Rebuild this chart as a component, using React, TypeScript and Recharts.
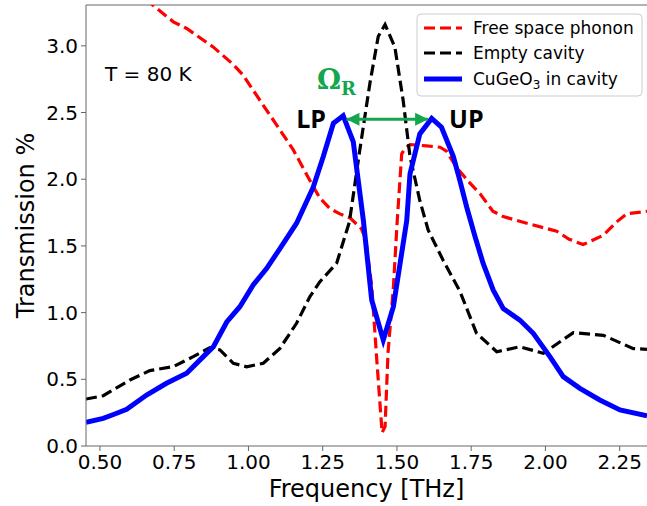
import React from 'react';
import { LineChart, Line, XAxis, YAxis, ReferenceLine } from 'recharts';

// frequency [THz] / transmission [%]
const FREE_X = [0.453, 0.55, 0.62, 0.67, 0.747, 0.792, 0.882, 0.949, 0.982, 1.039, 1.106, 1.151, 1.207, 1.24, 1.274, 1.308, 1.342, 1.38, 1.395, 1.415, 1.432, 1.45, 1.46, 1.47, 1.488, 1.501, 1.516, 1.527, 1.544, 1.6, 1.645, 1.667, 1.7, 1.746, 1.78, 1.823, 1.858, 1.937, 2.038, 2.08, 2.127, 2.195, 2.24, 2.273, 2.342];
const FREE_Y = [3.75, 3.58, 3.42, 3.32, 3.18, 3.13, 2.99, 2.86, 2.78, 2.59, 2.37, 2.22, 1.99, 1.86, 1.78, 1.74, 1.71, 1.63, 1.55, 1.2, 0.65, 0.1, 0.145, 0.7, 1.19, 1.69, 2.19, 2.23, 2.26, 2.25, 2.24, 2.21, 2.09, 1.97, 1.89, 1.76, 1.72, 1.67, 1.61, 1.55, 1.51, 1.58, 1.68, 1.74, 1.76];

const EMPTY_X = [0.453, 0.511, 0.601, 0.668, 0.747, 0.814, 0.87, 0.904, 0.949, 0.994, 1.05, 1.106, 1.162, 1.207, 1.24, 1.297, 1.34, 1.375, 1.409, 1.437, 1.46, 1.493, 1.521, 1.544, 1.577, 1.605, 1.656, 1.712, 1.768, 1.836, 1.914, 1.993, 2.094, 2.195, 2.296, 2.342];
const EMPTY_Y = [0.352, 0.377, 0.495, 0.565, 0.595, 0.67, 0.737, 0.72, 0.62, 0.594, 0.62, 0.732, 0.92, 1.12, 1.23, 1.37, 1.68, 2.22, 2.72, 3.07, 3.16, 2.99, 2.59, 2.17, 1.84, 1.62, 1.39, 1.16, 0.845, 0.707, 0.744, 0.695, 0.85, 0.83, 0.73, 0.725];

const CAVITY_X = [0.453, 0.511, 0.55, 0.59, 0.657, 0.724, 0.792, 0.848, 0.882, 0.927, 0.971, 1.016, 1.061, 1.106, 1.162, 1.218, 1.252, 1.286, 1.319, 1.353, 1.387, 1.415, 1.454, 1.488, 1.533, 1.544, 1.577, 1.617, 1.65, 1.69, 1.712, 1.735, 1.763, 1.79, 1.824, 1.858, 1.914, 1.959, 2.015, 2.06, 2.116, 2.183, 2.251, 2.342];
const CAVITY_Y = [0.178, 0.207, 0.24, 0.275, 0.382, 0.47, 0.545, 0.67, 0.744, 0.93, 1.044, 1.207, 1.33, 1.48, 1.67, 1.94, 2.17, 2.42, 2.476, 2.28, 1.69, 1.094, 0.795, 1.044, 1.69, 2.04, 2.34, 2.456, 2.39, 2.17, 1.99, 1.79, 1.57, 1.37, 1.17, 1.03, 0.944, 0.845, 0.67, 0.52, 0.432, 0.345, 0.27, 0.227];

// Rabi splitting arrow between the LP and UP peaks
const RABI_X = [1.33, 1.605];
const RABI_Y = [2.45, 2.45];

const X_TICKS = [0.5, 0.75, 1.0, 1.25, 1.5, 1.75, 2.0, 2.25];
const Y_TICKS = [0, 0.5, 1.0, 1.5, 2.0, 2.5, 3.0];
const X_MIN = 0.453;
const X_MAX = 2.342;
const Y_MAX = 3.306;

const RED = '#ff0000';
const BLUE = '#0000ff';
const GREEN = '#14a64e';
const SPINE = '#666';

const toPoints = (xs: number[], ys: number[]) => xs.map((x, i) => ({ x, y: ys[i] }));

const freeData = toPoints(FREE_X, FREE_Y);
const emptyData = toPoints(EMPTY_X, EMPTY_Y);
const cavityData = toPoints(CAVITY_X, CAVITY_Y);
const rabiData = toPoints(RABI_X, RABI_Y);

const ArrowHead = (props: any) => {
  const { cx, cy, index } = props;
  if (cx == null || cy == null) return <g key={index} />;
  const dir = index === 0 ? -1 : 1;
  const base = cx - dir * 13;
  return (
    <polygon
      key={index}
      points={`${cx},${cy} ${base},${cy - 6.5} ${base},${cy + 6.5}`}
      fill={GREEN}
    />
  );
};

const FONT = 'DejaVu Sans, sans-serif';

export default function App() {
  return (
    <div style={{ position: 'absolute', left: 0, top: 0, width: 647, height: 506, background: '#fff' }}>
      <LineChart
        width={647}
        height={506}
        margin={{ top: 5, right: 0, bottom: 0, left: 0 }}
        style={{ fontFamily: FONT }}
      >
        <XAxis
          dataKey="x"
          type="number"
          domain={[X_MIN, X_MAX]}
          allowDataOverflow
          ticks={X_TICKS}
          tickFormatter={(v) => v.toFixed(2)}
          tick={{ fontSize: 20, fill: '#000' }}
          tickSize={5}
          tickMargin={4}
          stroke={SPINE}
          height={60}
        />
        <YAxis
          dataKey="y"
          type="number"
          domain={[0, Y_MAX]}
          allowDataOverflow
          ticks={Y_TICKS}
          tickFormatter={(v) => v.toFixed(1)}
          tick={{ fontSize: 20, fill: '#000' }}
          tickSize={5}
          tickMargin={3}
          stroke={SPINE}
          width={86}
        />
        <ReferenceLine y={Y_MAX} stroke={SPINE} strokeWidth={1} />
        <Line
          data={freeData}
          dataKey="y"
          type="linear"
          stroke={RED}
          strokeWidth={3.2}
          strokeDasharray="11 5"
          dot={false}
          isAnimationActive={false}
        />
        <Line
          data={emptyData}
          dataKey="y"
          type="linear"
          stroke="#000"
          strokeWidth={3.2}
          strokeDasharray="11 5"
          dot={false}
          isAnimationActive={false}
        />
        <Line
          data={cavityData}
          dataKey="y"
          type="linear"
          stroke={BLUE}
          strokeWidth={5}
          dot={false}
          isAnimationActive={false}
        />
        <Line
          data={rabiData}
          dataKey="y"
          type="linear"
          stroke={GREEN}
          strokeWidth={3}
          dot={ArrowHead}
          isAnimationActive={false}
        />
      </LineChart>

      <svg
        width={647}
        height={506}
        style={{ position: 'absolute', left: 0, top: 0, pointerEvents: 'none', fontFamily: FONT }}
      >
        <text x={105} y={81} fontSize={20} fill="#000">T = 80 K</text>
        <text x={326} y={128} fontSize={25} fontWeight="bold" textAnchor="end" fill="#000" fontFamily="Open Sans">LP</text>
        <text x={449} y={128} fontSize={25} fontWeight="bold" fill="#000" fontFamily="Open Sans">UP</text>
        <text x={317} y={89} fontSize={27} fontWeight="bold" fill={GREEN} fontFamily="DejaVu Serif">
          Ω<tspan fontSize={18} dy={6}>R</tspan>
        </text>

        <text x={366.5} y={497} fontSize={24} textAnchor="middle" fill="#000">Frequency [THz]</text>
        <text transform="translate(34,225.5) rotate(-90)" fontSize={24} textAnchor="middle" fill="#000">Transmission %</text>

        <rect x={417} y={14} width={225} height={82} rx={4} fill="#fff" fillOpacity={0.8} stroke="#ccc" />
        <line x1={424} x2={462} y1={28} y2={28} stroke={RED} strokeWidth={3.2} strokeDasharray="11 5" />
        <text x={473} y={34} fontSize={17} fill="#000">Free space phonon</text>
        <line x1={424} x2={462} y1={53} y2={53} stroke="#000" strokeWidth={3.2} strokeDasharray="11 5" />
        <text x={473} y={59} fontSize={17} fill="#000">Empty cavity</text>
        <line x1={424} x2={462} y1={79} y2={79} stroke={BLUE} strokeWidth={5} />
        <text x={473} y={85} fontSize={17} fill="#000">
          CuGeO<tspan fontSize={12} dy={4}>3</tspan><tspan dy={-4}> in cavity</tspan>
        </text>
      </svg>
    </div>
  );
}
